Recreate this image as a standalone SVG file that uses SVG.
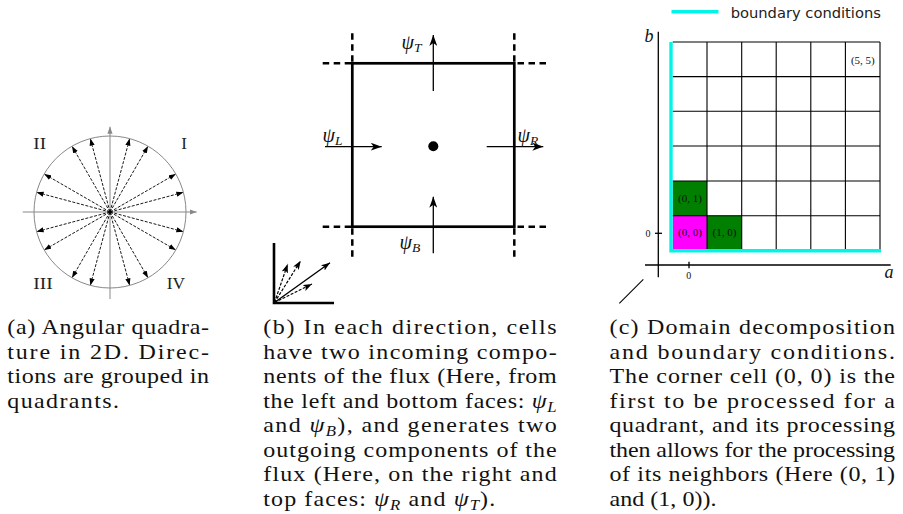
<svg xmlns="http://www.w3.org/2000/svg" width="903" height="514" viewBox="0 0 903 514">
<style>
.cap{font-family:"Liberation Serif","Times New Roman",serif;font-size:20px;fill:#111}
.it{font-style:italic}
.sub{font-size:14px;font-style:italic}
.rn{font-family:"Liberation Serif",serif;font-size:17px;fill:#222}
.psi{font-family:"Liberation Serif",serif;font-size:20px;font-style:italic;fill:#111}
.psub{font-size:13.5px}
.dir{stroke:#000;stroke-width:0.9;stroke-dasharray:3 1.5;fill:none;marker-end:url(#ah-a)}
.gax{stroke:#888;stroke-width:1;fill:none;marker-end:url(#ah-g)}
.flux{stroke:#000;stroke-width:1.3;fill:none;marker-end:url(#ah-b)}
.cell{stroke:#000;stroke-width:2.7;fill:none}
.dash{stroke:#000;stroke-width:2.5;stroke-dasharray:6.5 4.5;fill:none}
.ic{stroke:#000;stroke-width:1.2;fill:none;stroke-dasharray:3 1.5;marker-end:url(#ah-i)}
.grid{stroke:#000;stroke-width:1.1;fill:none}
.ax{stroke:#000;stroke-width:1.3;fill:none}
.cl{font-family:"Liberation Serif",serif;font-size:11px;fill:#111;text-anchor:middle}
.tk{font-family:"Liberation Serif",serif;font-size:10px;fill:#111;text-anchor:middle}
.axl{font-family:"Liberation Serif",serif;font-size:18px;font-style:italic;fill:#111}
</style>
<defs>
<marker id="ah-a" markerUnits="userSpaceOnUse" markerWidth="7" markerHeight="6" viewBox="0 -3 7 6" refX="7" refY="0" orient="auto"><path d="M0,-2.6 L7,0 L0,2.6 z" fill="#000"/></marker>
<marker id="ah-g" markerUnits="userSpaceOnUse" markerWidth="7" markerHeight="6" viewBox="0 -3 7 6" refX="7" refY="0" orient="auto"><path d="M0,-2.6 L7,0 L0,2.6 z" fill="#888"/></marker>
<marker id="ah-b" markerUnits="userSpaceOnUse" markerWidth="11" markerHeight="8" viewBox="0 -4 11 8" refX="11" refY="0" orient="auto"><path d="M0,-4 L11,0 L0,4 L3,0 z" fill="#000"/></marker>
<marker id="ah-i" markerUnits="userSpaceOnUse" markerWidth="9" markerHeight="7" viewBox="0 -3.5 9 7" refX="9" refY="0" orient="auto"><path d="M0,-3.3 L9,0 L0,3.3 L2.2,0 z" fill="#000"/></marker>
</defs>
<rect width="903" height="514" fill="#fff"/>

<!-- Panel (a) -->
<g id="panel-a">
  <g id="quadrature-circle">
    <circle cx="110" cy="212" r="76" fill="none" stroke="#888" stroke-width="1"/>
    <path class="gax" d="M22.7,212 H196.7"/>
    <path class="gax" d="M110,299 V126.7"/>
  </g>
  <g id="directions">
    <path class="dir" d="M110,212 L183.41,192.33"/>
    <path class="dir" d="M110,212 L175.82,174"/>
    <path class="dir" d="M110,212 L148,146.18"/>
    <path class="dir" d="M110,212 L129.67,138.59"/>
    <path class="dir" d="M110,212 L36.59,192.33"/>
    <path class="dir" d="M110,212 L44.18,174"/>
    <path class="dir" d="M110,212 L72,146.18"/>
    <path class="dir" d="M110,212 L90.33,138.59"/>
    <path class="dir" d="M110,212 L36.59,231.67"/>
    <path class="dir" d="M110,212 L44.18,250"/>
    <path class="dir" d="M110,212 L72,277.82"/>
    <path class="dir" d="M110,212 L90.33,285.41"/>
    <path class="dir" d="M110,212 L183.41,231.67"/>
    <path class="dir" d="M110,212 L175.82,250"/>
    <path class="dir" d="M110,212 L148,277.82"/>
    <path class="dir" d="M110,212 L129.67,285.41"/>
  </g>
  <g id="quadrant-labels">
    <text class="rn" x="33.3" y="149" textLength="12.7" lengthAdjust="spacingAndGlyphs">II</text>
    <text class="rn" x="181.3" y="149">I</text>
    <text class="rn" x="33.3" y="289" textLength="19.4" lengthAdjust="spacingAndGlyphs">III</text>
    <text class="rn" x="166.7" y="289" textLength="18.3" lengthAdjust="spacingAndGlyphs">IV</text>
  </g>
</g>

<!-- Panel (b) -->
<g id="panel-b">
  <g id="cell">
    <rect class="cell" x="352.3" y="63.3" width="162" height="163.4"/>
    <path class="dash" d="M322.7,63.3 H352.3 M546,63.3 H514.3 M322.7,226.7 H352.3 M546,226.7 H514.3"/>
    <path class="dash" d="M352.3,33.3 V63.3 M514.3,33.3 V63.3 M352.3,256.7 V226.7 M514.3,256.7 V226.7"/>
    <circle cx="433.3" cy="146.3" r="5" fill="#000"/>
  </g>
  <g id="flux-connectors">
    <path class="flux" d="M325,146.7 H381.7"/>
    <path class="flux" d="M486.7,146.7 H543.3"/>
    <path class="flux" d="M433.3,91 V35"/>
    <path class="flux" d="M433.3,253.3 V196.7"/>
  </g>
  <g id="flux-labels">
    <text class="psi" x="401.5" y="49">ψ<tspan class="psub" dy="3">T</tspan></text>
    <text class="psi" x="322.5" y="142">ψ<tspan class="psub" dy="3">L</tspan></text>
    <text class="psi" x="517.5" y="142">ψ<tspan class="psub" dy="3">R</tspan></text>
    <text class="psi" x="399.5" y="249">ψ<tspan class="psub" dy="3">B</tspan></text>
  </g>
  <g id="quadrant-icon">
    <path d="M274,243 V303 H334" stroke="#000" stroke-width="2.6" fill="none"/>
    <path d="M274.5,302.5 L330,262.7" stroke="#000" stroke-width="1.4" fill="none" marker-end="url(#ah-i)"/>
    <path class="ic" d="M274.5,302.5 L312,284"/>
    <path class="ic" d="M274.5,302.5 L300.7,260.7"/>
    <path class="ic" d="M274.5,302.5 L287.7,264"/>
  </g>
</g>

<!-- Panel (c) -->
<g id="panel-c">
  <g id="legend">
    <path d="M671.5,11.7 H718.5" stroke="#00F5E6" stroke-width="3.4"/>
    <text x="730.7" y="18.3" font-family="DejaVu Sans, sans-serif" font-size="14.7" fill="#222">boundary conditions</text>
  </g>
  <g id="axes">
    <path class="ax" d="M658.3,31.7 V277.3"/>
    <path class="ax" d="M645,265 H890.7"/>
    <path class="ax" d="M655,233.3 H662"/>
    <path class="ax" d="M689,261.7 V268.3"/>
    <path d="M643.3,279.3 L619.3,303.3" stroke="#000" stroke-width="1.1"/>
    <text class="axl" x="644.5" y="41.7">b</text>
    <text class="axl" x="884.5" y="277.5">a</text>
    <text class="tk" x="648" y="237">0</text>
    <text class="tk" x="688.8" y="278.5">0</text>
  </g>
  <g id="cell-0-0">
    <rect x="672.7" y="215.7" width="34.3" height="33.8" fill="#FF00FF"/>
    <text class="cl" x="689.9" y="236">(0, 0)</text>
  </g>
  <g id="cell-1-0">
    <rect x="707" y="215.7" width="34.7" height="33.8" fill="#007F00"/>
    <text class="cl" x="724.4" y="236">(1, 0)</text>
  </g>
  <g id="cell-0-1">
    <rect x="672.7" y="181" width="34.3" height="34.7" fill="#007F00"/>
    <text class="cl" x="689.9" y="201.5">(0, 1)</text>
  </g>
  <g id="cell-5-5">
    <text class="cl" x="862.8" y="63.5" font-size="9">(5, 5)</text>
  </g>
  <g id="grid">
    <path class="grid" d="M672.7,42 H880 M672.7,76.6 H880 M672.7,111.3 H880 M672.7,146 H880 M672.7,181 H880 M672.7,215.7 H880 M672.7,249.5 H880"/>
    <path class="grid" d="M707,42 V249.5 M741.7,42 V249.5 M776.2,42 V249.5 M810.8,42 V249.5 M845.4,42 V249.5 M880,42 V249.5"/>
  </g>
  <g id="boundary">
    <path d="M671,42 V250.7 H881" stroke="#00F5E6" stroke-width="3.4" fill="none"/>
  </g>
</g>

<!-- Captions -->
<g id="captions" transform="scale(1.2,1)">
  <g id="caption-a">
    <text class="cap" x="6.08" y="334.5" textLength="168.1" lengthAdjust="spacing">(a) Angular quadra-</text>
    <text class="cap" x="6.08" y="359" textLength="168.1" lengthAdjust="spacing">ture in 2D. Direc-</text>
    <text class="cap" x="6.08" y="383.5" textLength="168.1" lengthAdjust="spacing">tions are grouped in</text>
    <text class="cap" x="6.08" y="408" textLength="93.1" lengthAdjust="spacing">quadrants.</text>
  </g>
  <g id="caption-b">
    <text class="cap" x="219.4" y="334.5" textLength="244.5" lengthAdjust="spacing">(b)  In each direction, cells</text>
    <text class="cap" x="219.4" y="359" textLength="244.5" lengthAdjust="spacing">have two incoming compo-</text>
    <text class="cap" x="219.4" y="383.5" textLength="244.5" lengthAdjust="spacing">nents of the flux (Here, from</text>
    <text class="cap" x="219.4" y="408" textLength="244.5" lengthAdjust="spacing">the left and bottom faces: <tspan class="it">ψ</tspan><tspan class="sub" dy="4">L</tspan></text>
    <text class="cap" x="219.4" y="432.5" textLength="244.5" lengthAdjust="spacing">and <tspan class="it">ψ</tspan><tspan class="sub" dy="4">B</tspan><tspan dy="-4">), and generates two</tspan></text>
    <text class="cap" x="219.4" y="457" textLength="244.5" lengthAdjust="spacing">outgoing components of the</text>
    <text class="cap" x="219.4" y="481.5" textLength="244.5" lengthAdjust="spacing">flux (Here, on the right and</text>
    <text class="cap" x="219.4" y="506" textLength="193.3" lengthAdjust="spacing">top faces: <tspan class="it">ψ</tspan><tspan class="sub" dy="4">R</tspan><tspan dy="-4"> and </tspan><tspan class="it">ψ</tspan><tspan class="sub" dy="4">T</tspan><tspan dy="-4">).</tspan></text>
  </g>
  <g id="caption-c">
    <text class="cap" x="507.9" y="334.5" textLength="237.9" lengthAdjust="spacing">(c)  Domain decomposition</text>
    <text class="cap" x="507.9" y="359" textLength="237.9" lengthAdjust="spacing">and boundary conditions.</text>
    <text class="cap" x="507.9" y="383.5" textLength="237.9" lengthAdjust="spacing">The corner cell (0, 0) is the</text>
    <text class="cap" x="507.9" y="408" textLength="237.9" lengthAdjust="spacing">first to be processed for a</text>
    <text class="cap" x="507.9" y="432.5" textLength="237.9" lengthAdjust="spacing">quadrant, and its processing</text>
    <text class="cap" x="507.9" y="457" textLength="237.9" lengthAdjust="spacing">then allows for the processing</text>
    <text class="cap" x="507.9" y="481.5" textLength="237.9" lengthAdjust="spacing">of its neighbors (Here (0, 1)</text>
    <text class="cap" x="507.9" y="506" textLength="89.2" lengthAdjust="spacing">and (1, 0)).</text>
  </g>
</g>
</svg>
